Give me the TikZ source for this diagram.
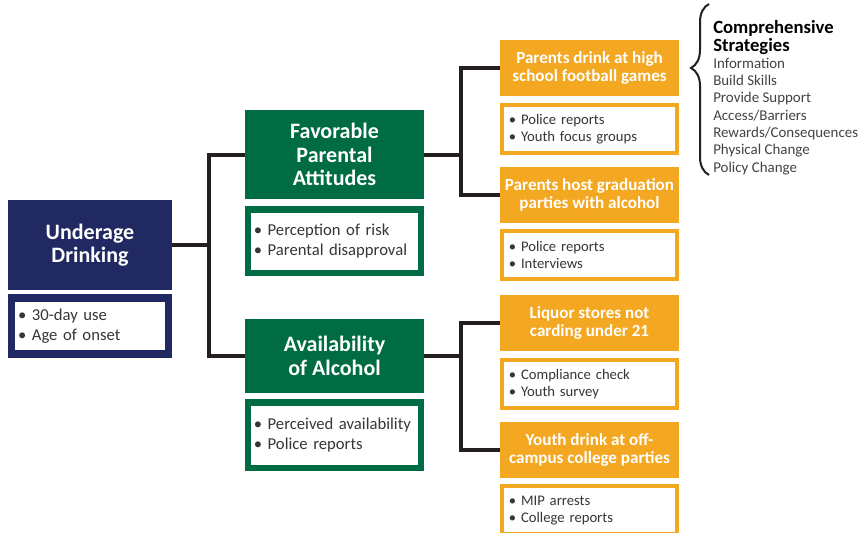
\documentclass[tikz,border=0pt]{standalone}
\usepackage{fontspec}
\setmainfont{Carlito}
\usetikzlibrary{positioning, decorations.pathreplacing}
\definecolor{navy}{HTML}{212963}
\definecolor{leafgreen}{HTML}{006C44}
\definecolor{amber}{HTML}{F4A720}
\definecolor{ink}{HTML}{231F20}

\begin{document}
\begin{tikzpicture}[x=0.75pt,y=-0.75pt,
  link/.style={draw=ink,line width=3pt},
  head/.style={text=white,align=center,inner sep=0pt},
  goal node/.style={head,fill=navy,minimum width=123pt,minimum height=67.5pt,font=\bfseries\fontsize{16.5}{17}\selectfont},
  factor node/.style={head,fill=leafgreen,minimum width=134pt,font=\bfseries\fontsize{16.5}{17.5}\selectfont},
  cause node/.style={head,fill=amber,minimum width=134pt,minimum height=42pt,font=\bfseries\fontsize{12.8}{13}\selectfont},
  data node/.style={draw,fill=white,align=left,text=ink!90,inner ysep=0pt},
  goal data/.style={data node,draw=navy,line width=5.6pt,minimum width=118pt,minimum height=42pt,text width=108pt,inner xsep=5pt,font=\fontsize{12.5}{14.5}\selectfont},
  factor data/.style={data node,draw=leafgreen,line width=4.9pt,minimum width=130pt,text width=121pt,inner xsep=4.5pt,font=\fontsize{12.5}{14.5}\selectfont},
  cause data/.style={data node,draw=amber,line width=3pt,minimum width=131pt,minimum height=36pt,text width=121pt,inner xsep=5pt,font=\fontsize{11}{12.5}\selectfont},
  brace line/.style={draw=ink,line width=1.5pt,decorate,decoration={brace,amplitude=13.5pt,aspect=0.626}}]
  \useasboundingbox (0,0) rectangle (864,532);

  \node[goal node] (ud) at (90,245) {Underage\\Drinking};
  \node[goal data, below=3pt of ud] (udi) {• 30-day use\\• Age of onset};

  \node[factor node, minimum height=67pt] (fpa) at (334.5,154.5) {Favorable\\Parental\\Attitudes};
  \node[factor data, minimum height=47.6pt, below=5pt of fpa] (fpai) {• Perception of risk\\• Parental disapproval};
  \node[factor node, minimum height=55.5pt] (aoa) at (334.5,356) {Availability\\of Alcohol};
  \node[factor data, minimum height=49pt, below=4.5pt of aoa] (aoai) {• Perceived availability\\• Police reports};

  \node[cause node] (c1) at (589.5,68) {Parents drink at high\\school football games};
  \node[cause data, below=5pt of c1] (c1i) {• Police reports\\• Youth focus groups};
  \node[cause node] (c2) at (589.5,195) {Parents host graduation\\parties with alcohol};
  \node[cause data, below=4.5pt of c2] (c2i) {• Police reports\\• Interviews};
  \node[cause node] (c3) at (589.5,323) {Liquor stores not\\carding under 21};
  \node[cause data, below=5pt of c3] (c3i) {• Compliance check\\• Youth survey};
  \node[cause node] (c4) at (589.5,450) {Youth drink at off-\\campus college parties};
  \node[cause data, below=4.5pt of c4] (c4i) {• MIP arrests\\• College reports};

  \draw[link] (ud.east) -- ++(37,0) |- (fpa.west);
  \draw[link] (ud.east) -- ++(37,0) |- (aoa.west);
  \draw[link] (fpa.east) -- ++(37,0) |- (c1.west);
  \draw[link] (fpa.east) -- ++(37,0) |- (c2.west);
  \draw[link] (aoa.east) -- ++(37,0) |- (c3.west);
  \draw[link] (aoa.east) -- ++(37,0) |- (c4.west);

  \coordinate (brace bottom) at (709,175);
  \coordinate (brace top) at (709,4);
  \draw[brace line] (brace bottom) -- (brace top);
  \node[anchor=north west, inner sep=0pt, align=left, font=\bfseries\fontsize{14}{13.5}\selectfont] (strat) at (713,20.5) {Comprehensive\\Strategies};
  \node[below=1.8pt of strat.south west, anchor=north west, inner sep=0pt, align=left, text=ink!85, font=\fontsize{11.2}{13}\selectfont] (steps) {Information\\Build Skills\\Provide Support\\Access/Barriers\\Rewards/Consequences\\Physical Change\\Policy Change};
\end{tikzpicture}
\end{document}
